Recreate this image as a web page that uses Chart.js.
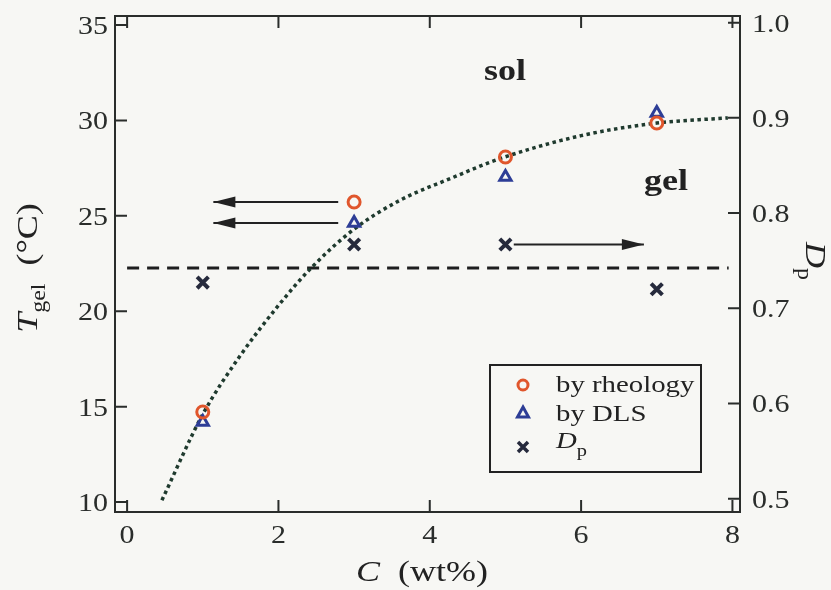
<!DOCTYPE html>
<html>
<head>
<meta charset="utf-8">
<script src="https://cdn.jsdelivr.net/npm/chart.js@4.4.0/dist/chart.umd.min.js"></script>
<style>
  html, body { margin: 0; padding: 0; background: #f7f7f4; }
  #wrap { width: 831px; height: 590px; }
</style>
</head>
<body>
<div id="wrap"><canvas id="gelChart" width="831" height="590"></canvas></div>
<script>
// gel point temperature and Dp against polymer concentration
const concentrations = [1, 3, 5, 7];
const tgelRheology = [14.72, 25.72, 28.08, 29.86];
const tgelDLS = [14.19, 24.62, 27.03, 30.39];
const dpValues = [0.727, 0.767, 0.767, 0.720];

// dotted guide curve, read along its path
const fitC = [0.46, 1.0, 1.5, 2.0, 2.43, 3.0, 3.6, 4.3, 4.93, 6.0, 7.0, 7.94];
const fitT = [10.1, 14.6, 17.7, 20.3, 22.26, 24.3, 25.8, 27.0, 28.0, 29.2, 29.86, 30.13];

// dashed sol/gel boundary
const boundaryC = [0, 7.95];
const boundaryT = [22.26, 22.26];

// arrows pointing to the axis each marker belongs to
const rheoArrowC = [2.79, 1.14];
const dlsArrowC = [2.79, 1.14];
const dpArrowC = [5.11, 6.83];

const xTicks = [0, 2, 4, 6, 8];
const tTicks = [10, 15, 20, 25, 30, 35];
const dpTicks = [0.5, 0.6, 0.7, 0.8, 0.9, 1.0];

const SERIF = '"Liberation Serif", "DejaVu Serif", serif';
const SX = 1.2;          // text is a bit wide in this figure
const INK = '#2a2d2b';
const RED = '#e0562c';
const BLUE = '#2d3d96';
const NAVY = '#262a3c';

const pts = (xs, ys) => xs.map((x, i) => ({ x, y: ys[i] }));
const flat = (xs, v) => xs.map(x => ({ x, y: v }));

// draw a run of differently styled pieces, horizontally stretched
function drawParts(ctx, parts, x, y, align) {
  let total = 0;
  parts.forEach(p => { ctx.font = p.font; total += ctx.measureText(p.t).width; });
  let start = x;
  if (align === 'center') start = x - total * SX / 2;
  if (align === 'right') start = x - total * SX;
  ctx.save();
  ctx.translate(start, y);
  ctx.scale(SX, 1);
  let cx = 0;
  parts.forEach(p => {
    ctx.font = p.font;
    ctx.fillText(p.t, cx, p.dy || 0);
    cx += ctx.measureText(p.t).width;
  });
  ctx.restore();
}

const frame = {
  id: 'frame',
  beforeDraw(chart) {
    const ctx = chart.ctx;
    ctx.save();
    ctx.fillStyle = '#f7f7f4';
    ctx.fillRect(0, 0, chart.width, chart.height);
    ctx.restore();
  },
  beforeDatasetsDraw(chart) {
    const { ctx, chartArea: a, scales } = chart;
    const len = 12;
    ctx.save();
    ctx.strokeStyle = INK;
    ctx.lineWidth = 2;
    ctx.strokeRect(a.left, a.top, a.right - a.left, a.bottom - a.top);
    ctx.beginPath();
    scales.x.ticks.forEach(t => {
      const px = scales.x.getPixelForValue(t.value);
      ctx.moveTo(px, a.bottom); ctx.lineTo(px, a.bottom - len);
      ctx.moveTo(px, a.top); ctx.lineTo(px, a.top + len);
    });
    scales.y.ticks.forEach(t => {
      const py = scales.y.getPixelForValue(t.value);
      ctx.moveTo(a.left, py); ctx.lineTo(a.left + len, py);
    });
    scales.y2.ticks.forEach(t => {
      const py = scales.y2.getPixelForValue(t.value);
      ctx.moveTo(a.right, py); ctx.lineTo(a.right - len, py);
    });
    ctx.stroke();

    // tick labels
    ctx.fillStyle = INK;
    const tf = '25px ' + SERIF;
    ctx.textBaseline = 'alphabetic';
    scales.x.ticks.forEach(t => {
      drawParts(ctx, [{ t: String(t.value), font: tf }], scales.x.getPixelForValue(t.value), a.bottom + 31, 'center');
    });
    scales.y.ticks.forEach(t => {
      drawParts(ctx, [{ t: String(t.value), font: tf }], a.left - 7, scales.y.getPixelForValue(t.value) + 9, 'right');
    });
    scales.y2.ticks.forEach(t => {
      drawParts(ctx, [{ t: t.value.toFixed(1), font: tf }], a.right + 12, scales.y2.getPixelForValue(t.value) + 9, 'left');
    });
    ctx.restore();
  },
  afterDatasetsDraw(chart) {
    const ctx = chart.ctx;
    ctx.save();
    ctx.fillStyle = '#222';
    chart.data.datasets.forEach((ds, i) => {
      if (!ds.arrow) return;
      const pts = chart.getDatasetMeta(i).data;
      const a = pts[pts.length - 2], b = pts[pts.length - 1];
      const ang = Math.atan2(b.y - a.y, b.x - a.x);
      ctx.save();
      ctx.translate(b.x, b.y);
      ctx.rotate(ang);
      ctx.beginPath();
      ctx.moveTo(0, 0);
      ctx.lineTo(-22, -5.5);
      ctx.lineTo(-22, 5.5);
      ctx.closePath();
      ctx.fill();
      ctx.restore();
    });
    ctx.restore();
  },
  afterDraw(chart) {
    const ctx = chart.ctx;
    const reg = s => s + 'px ' + SERIF;
    const ita = s => 'italic ' + s + 'px ' + SERIF;
    const bold = s => 'bold ' + s + 'px ' + SERIF;
    ctx.save();
    ctx.fillStyle = '#222';
    ctx.textBaseline = 'alphabetic';

    // region labels
    drawParts(ctx, [{ t: 'sol', font: bold(30) }], 505, 80, 'center');
    drawParts(ctx, [{ t: 'gel', font: bold(30) }], 666, 190, 'center');

    // axis titles
    drawParts(ctx, [{ t: 'C', font: ita(30) }, { t: '  (wt%)', font: reg(30) }], 422, 581, 'center');

    ctx.save();
    ctx.translate(37, 268);
    ctx.rotate(-Math.PI / 2);
    drawParts(ctx, [
      { t: 'T', font: ita(30) },
      { t: 'gel', font: reg(20), dy: 8 },
      { t: '  (°C)', font: reg(30) }
    ], 0, 0, 'center');
    ctx.restore();

    ctx.save();
    ctx.translate(806, 261);
    ctx.rotate(Math.PI / 2);
    drawParts(ctx, [
      { t: 'D', font: ita(30) },
      { t: 'p', font: reg(20), dy: 8 }
    ], 0, 0, 'center');
    ctx.restore();

    // legend box
    ctx.strokeStyle = '#222';
    ctx.lineWidth = 2;
    ctx.strokeRect(490, 365, 211, 107);
    const mx = 523;
    ctx.lineWidth = 3;
    ctx.strokeStyle = RED;
    ctx.beginPath();
    ctx.arc(mx, 385, 5, 0, Math.PI * 2);
    ctx.stroke();
    ctx.strokeStyle = BLUE;
    ctx.beginPath();
    ctx.moveTo(mx, 407); ctx.lineTo(mx + 5.5, 417); ctx.lineTo(mx - 5.5, 417);
    ctx.closePath();
    ctx.stroke();
    ctx.strokeStyle = NAVY;
    ctx.lineWidth = 3.5;
    ctx.beginPath();
    ctx.moveTo(mx - 5, 442); ctx.lineTo(mx + 5, 452);
    ctx.moveTo(mx + 5, 442); ctx.lineTo(mx - 5, 452);
    ctx.stroke();
    drawParts(ctx, [{ t: 'by rheology', font: reg(24) }], 556, 392, 'left');
    drawParts(ctx, [{ t: 'by DLS', font: reg(24) }], 556, 421, 'left');
    drawParts(ctx, [{ t: 'D', font: ita(24) }, { t: 'p', font: reg(17), dy: 8 }], 556, 448, 'left');
    ctx.restore();
  }
};

const ticksFrom = list => scale => { scale.ticks = list.map(value => ({ value })); };
const hidden = { grid: { display: false }, border: { display: false }, ticks: { display: false } };

new Chart(document.getElementById('gelChart'), {
  type: 'scatter',
  data: {
    datasets: [
      {
        label: 'by rheology',
        data: pts(concentrations, tgelRheology),
        yAxisID: 'y',
        pointStyle: 'circle',
        pointRadius: 6,
        pointBorderWidth: 3,
        borderColor: RED,
        backgroundColor: 'rgba(0,0,0,0)'
      },
      {
        label: 'by DLS',
        data: pts(concentrations, tgelDLS),
        yAxisID: 'y',
        pointStyle: 'triangle',
        pointRadius: 6.5,
        pointBorderWidth: 3,
        borderColor: BLUE,
        backgroundColor: 'rgba(0,0,0,0)'
      },
      {
        label: 'Dp',
        data: pts(concentrations, dpValues),
        yAxisID: 'y2',
        pointStyle: 'crossRot',
        pointRadius: 8,
        pointBorderWidth: 4,
        borderColor: NAVY
      },
      {
        data: flat(rheoArrowC, tgelRheology[1]),
        yAxisID: 'y', showLine: true, pointRadius: 0,
        borderColor: '#222', borderWidth: 2, arrow: true
      },
      {
        data: flat(dlsArrowC, tgelDLS[1]),
        yAxisID: 'y', showLine: true, pointRadius: 0,
        borderColor: '#222', borderWidth: 2, arrow: true
      },
      {
        data: flat(dpArrowC, dpValues[1]),
        yAxisID: 'y2', showLine: true, pointRadius: 0,
        borderColor: '#222', borderWidth: 2, arrow: true
      },
      {
        label: 'fit',
        data: pts(fitC, fitT),
        yAxisID: 'y',
        showLine: true,
        pointRadius: 0,
        borderColor: '#1f3a2e',
        borderWidth: 3.5,
        borderDash: [3.5, 3.5],
        cubicInterpolationMode: 'monotone'
      },
      {
        label: 'boundary',
        data: pts(boundaryC, boundaryT),
        yAxisID: 'y',
        showLine: true,
        pointRadius: 0,
        borderColor: '#1e1e1e',
        borderWidth: 3,
        borderDash: [12, 8]
      }
    ]
  },
  options: {
    responsive: false,
    animation: false,
    devicePixelRatio: 1,
    layout: { padding: { top: 16, left: 0, right: 0, bottom: 0 } },
    plugins: { legend: { display: false }, tooltip: { enabled: false } },
    scales: {
      x: {
        type: 'linear', min: -0.16, max: 8.1,
        afterBuildTicks: ticksFrom(xTicks),
        afterFit: s => { s.height = 78; },
        ...hidden
      },
      y: {
        type: 'linear', position: 'left', min: 9.48, max: 35.47,
        afterBuildTicks: ticksFrom(tTicks),
        afterFit: s => { s.width = 115; },
        ...hidden
      },
      y2: {
        type: 'linear', position: 'right', min: 0.486, max: 1.007,
        afterBuildTicks: ticksFrom(dpTicks),
        afterFit: s => { s.width = 91; },
        ...hidden
      }
    }
  },
  plugins: [frame]
});
</script>
</body>
</html>
